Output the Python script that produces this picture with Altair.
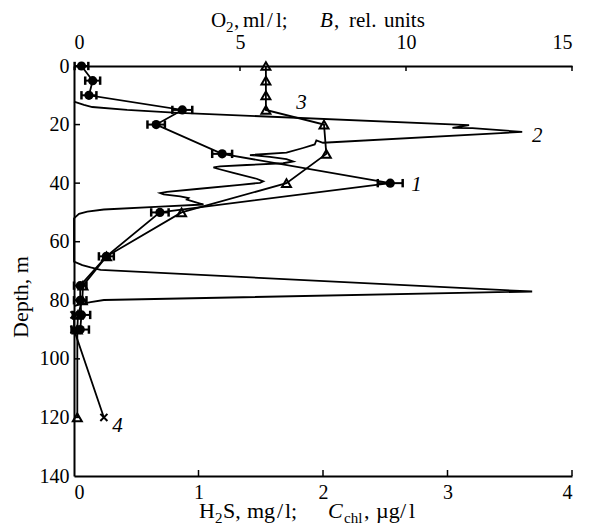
import altair as alt
import pandas as pd

# ---- data ----
# Curve 1: chlorophyll C_chl (ug/l), bottom axis, with horizontal error bars
depth_chl = [0, 5, 10, 15, 20, 30, 40, 50, 65, 75, 80, 85, 90]
chl = [0.06, 0.15, 0.12, 0.87, 0.66, 1.19, 2.54, 0.69, 0.26, 0.05, 0.05, 0.06, 0.05]
chl_err = [0.055, 0.06, 0.06, 0.08, 0.07, 0.08, 0.10, 0.07, 0.06, 0.05, 0.05, 0.07, 0.07]

# Curve 3: O2 (ml/l), top axis
depth_o2 = [0, 5, 10, 15, 20, 30, 40, 50, 65, 75, 80, 85, 90, 120]
o2 = [5.78, 5.78, 5.78, 5.78, 7.53, 7.6, 6.4, 3.24, 0.98, 0.27, 0.25, 0.12, 0.1, 0.1]

# Curve 4: H2S (mg/l), bottom axis
depth_h2s = [85, 90, 120]
h2s = [0.0, 0.0, 0.24]

# Curve 2: B (rel. units), top axis (continuous profile)
depth_b = [12.2, 13.3, 14.0, 15.0, 15.9, 20.2, 21.1, 21.2, 22.5,
           26.2, 25.4, 26.8, 28.0, 29.6, 30.4, 31.0, 31.8, 32.6, 33.2,
           33.8, 34.3, 34.6, 35.0, 36.5, 38.5, 39.4, 39.9, 40.6, 42.0,
           43.0, 43.4, 43.8, 44.5, 45.1, 45.6, 46.3, 47.3, 48.0, 49.0,
           49.7, 50.5, 52.0, 66.8, 68.0, 68.8, 69.6, 77.0, 79.9, 80.6,
           81.3, 82.0]
b_val = [0.0, 0.3, 0.55, 1.6, 3.0, 11.9, 11.4, 12.0, 13.5,
         7.5, 7.3, 7.25, 6.9, 6.4, 5.3, 5.9, 6.4, 6.6, 6.3,
         5.2, 4.4, 4.2, 4.3, 4.8, 5.5, 5.7, 5.6, 5.0, 3.7,
         2.8, 2.6, 2.7, 3.2, 3.45, 3.4, 3.6, 3.9, 2.6, 0.9,
         0.4, 0.15, 0.0, 0.0, 0.25, 0.5, 0.8, 13.8, 0.9, 0.5,
         0.2, 0.0]

depth_ticks = [0, 20, 40, 60, 80, 100, 120, 140]
bottom_ticks = [0, 1, 2, 3, 4]
top_ticks = [0, 5, 10, 15]

curve_labels_bottom = ["1", "4"]
curve_labels_bottom_x = [2.75, 0.35]
curve_labels_bottom_y = [40.6, 123.0]
curve_labels_top = ["2", "3"]
curve_labels_top_x = [13.95, 6.85]
curve_labels_top_y = [24.0, 12.6]

# ---- tables ----
df_chl = pd.DataFrame({"depth": depth_chl, "v": chl,
                       "lo": [a - e for a, e in zip(chl, chl_err)],
                       "hi": [a + e for a, e in zip(chl, chl_err)]})
df_o2 = pd.DataFrame({"depth": depth_o2, "v": o2})
df_h2s = pd.DataFrame({"depth": depth_h2s, "v": h2s})
df_b = pd.DataFrame({"depth": depth_b, "v": b_val, "i": list(range(len(depth_b)))})
df_lab_b = pd.DataFrame({"t": curve_labels_bottom, "v": curve_labels_bottom_x, "depth": curve_labels_bottom_y})
df_lab_t = pd.DataFrame({"t": curve_labels_top, "v": curve_labels_top_x, "depth": curve_labels_top_y})
df_dt = pd.DataFrame({"depth": depth_ticks[1:-1]})
df_bt = pd.DataFrame({"v": bottom_ticks[1:]})
df_tt = pd.DataFrame({"v": top_ticks[1:]})
one = pd.DataFrame({"a": [0]})

FONT = "Liberation Serif"
W, H = 498, 410
LBL = 20

y_axis = alt.Axis(orient="left", values=depth_ticks, title="", ticks=False,
                  labelPadding=5, domainWidth=2, domainColor="black",
                  labelFont=FONT, labelFontSize=LBL, labelColor="black", grid=False)
y_scale = alt.Scale(domain=[0, 140], reverse=True, nice=False, zero=False)


def Y():
    return alt.Y("depth:Q", scale=y_scale, axis=y_axis)


bx_axis = alt.Axis(orient="bottom", values=bottom_ticks, title="", ticks=False,
                   labelPadding=6, domainWidth=2, domainColor="black",
                   labelFont=FONT, labelFontSize=LBL, labelColor="black", grid=False)
bx_scale = alt.Scale(domain=[0, 4], nice=False, zero=False)

tx_axis = alt.Axis(orient="top", values=top_ticks, title="", ticks=False,
                   labelPadding=14, domainWidth=2, domainColor="black",
                   labelFont=FONT, labelFontSize=LBL, labelColor="black", grid=False)
tx_scale = alt.Scale(domain=[0, 15], nice=False, zero=False)


def BX(field="v"):
    return alt.X(f"{field}:Q", scale=bx_scale, axis=bx_axis)


def TX(field="v"):
    return alt.X(f"{field}:Q", scale=tx_scale, axis=tx_axis)


# ---- top-axis group (B and O2) ----
b_line = alt.Chart(df_b).mark_line(color="black", strokeWidth=1.8).encode(
    x=TX(), y=Y(), order="i:Q")
o2_line = alt.Chart(df_o2).mark_line(color="black", strokeWidth=1.8).encode(
    x=TX(), y=Y(), order="depth:Q")
o2_pts = alt.Chart(df_o2).mark_point(shape="triangle-up", filled=False, size=80,
                                     strokeWidth=2, color="black", opacity=1).encode(x=TX(), y=Y())
top_labels = alt.Chart(df_lab_t).mark_text(font=FONT, fontSize=21, fontStyle="italic",
                                           color="black").encode(x=TX(), y=Y(), text="t:N")
top_tick_marks = alt.Chart(df_tt).mark_rule(color="black", strokeWidth=1.5).encode(
    x=TX(), y=alt.value(0), y2=alt.value(5))
top_group = alt.layer(b_line, o2_line, o2_pts, top_labels, top_tick_marks)

# ---- bottom-axis group (C_chl and H2S) ----
chl_line = alt.Chart(df_chl).mark_line(color="black", strokeWidth=1.8).encode(
    x=BX(), y=Y(), order="depth:Q")
chl_err_rule = alt.Chart(df_chl).mark_rule(color="black", strokeWidth=2).encode(
    x=BX("lo"), x2="hi:Q", y=Y())
cap = "M0,-1L0,1"
chl_cap_lo = alt.Chart(df_chl).mark_point(shape=cap, size=70, strokeWidth=2.5, filled=False,
                                          color="black", opacity=1).encode(x=BX("lo"), y=Y())
chl_cap_hi = alt.Chart(df_chl).mark_point(shape=cap, size=70, strokeWidth=2.5, filled=False,
                                          color="black", opacity=1).encode(x=BX("hi"), y=Y())
chl_pts = alt.Chart(df_chl).mark_point(shape="circle", filled=True, size=85,
                                       color="black", opacity=1).encode(x=BX(), y=Y())
h2s_line = alt.Chart(df_h2s).mark_line(color="black", strokeWidth=1.8).encode(
    x=BX(), y=Y(), order="depth:Q")
h2s_pts = alt.Chart(df_h2s).mark_point(shape="M-1,-1L1,1M1,-1L-1,1", size=50, strokeWidth=2,
                                       filled=False, color="black", opacity=1).encode(x=BX(), y=Y())
bottom_labels = alt.Chart(df_lab_b).mark_text(font=FONT, fontSize=21, fontStyle="italic",
                                              color="black").encode(x=BX(), y=Y(), text="t:N")
bottom_tick_marks = alt.Chart(df_bt).mark_rule(color="black", strokeWidth=1.5).encode(
    x=BX(), y=alt.value(H), y2=alt.value(H - 6))
left_tick_marks = alt.Chart(df_dt).mark_rule(color="black", strokeWidth=1.5).encode(
    y=Y(), x=alt.value(0), x2=alt.value(6))

X0, Y0 = 74, 66  # page position of the plot origin, used to place title pieces


def txt(s, px, py, size=22, style="normal", angle=0, align="left"):
    return alt.Chart(one).mark_text(text=s, font=FONT, fontSize=size, fontStyle=style,
                                    color="black", align=align, baseline="alphabetic",
                                    angle=angle).encode(x=alt.value(px - X0), y=alt.value(py - Y0))


TB = 27   # top title baseline (page px)
BB = 518  # bottom title baseline (page px)
SUB = 15
titles = [
    txt("O", 211, TB, size=21), txt("2", 226, TB + 5, size=SUB), txt(",", 234, TB, size=21),
    txt("ml", 243, TB, size=21), txt("/", 267, TB, size=21), txt("l;", 276, TB, size=21),
    txt("B", 320, TB, size=21, style="italic"), txt(",", 334, TB, size=21),
    txt("rel.", 349, TB, size=21), txt("units", 384, TB, size=21),
    txt("H", 199, BB), txt("2", 215, BB + 5, size=SUB), txt("S,", 223, BB),
    txt("mg", 247, BB), txt("/", 277, BB), txt("l;", 285, BB),
    txt("C", 328, BB, style="italic"), txt("chl", 344, BB + 5, size=SUB), txt(",", 364, BB),
    txt("\u00b5g", 376, BB), txt("/", 400, BB), txt("l", 409, BB),
    txt("Depth, m", 28, 297, angle=270, align="center"),
]

bottom_group = alt.layer(chl_line, h2s_line, chl_err_rule, chl_cap_lo, chl_cap_hi,
                         chl_pts, h2s_pts, bottom_labels, bottom_tick_marks,
                         left_tick_marks, *titles)

chart = alt.layer(top_group, bottom_group).resolve_scale(x="independent").properties(
    width=W, height=H,
    autosize=alt.AutoSizeParams(type="none"),
    padding={"left": 66, "top": 58, "right": 19, "bottom": 48},
    background="white",
).configure_view(stroke=None)

chart.save("out.html", embed_options={"renderer": "svg", "actions": False})
